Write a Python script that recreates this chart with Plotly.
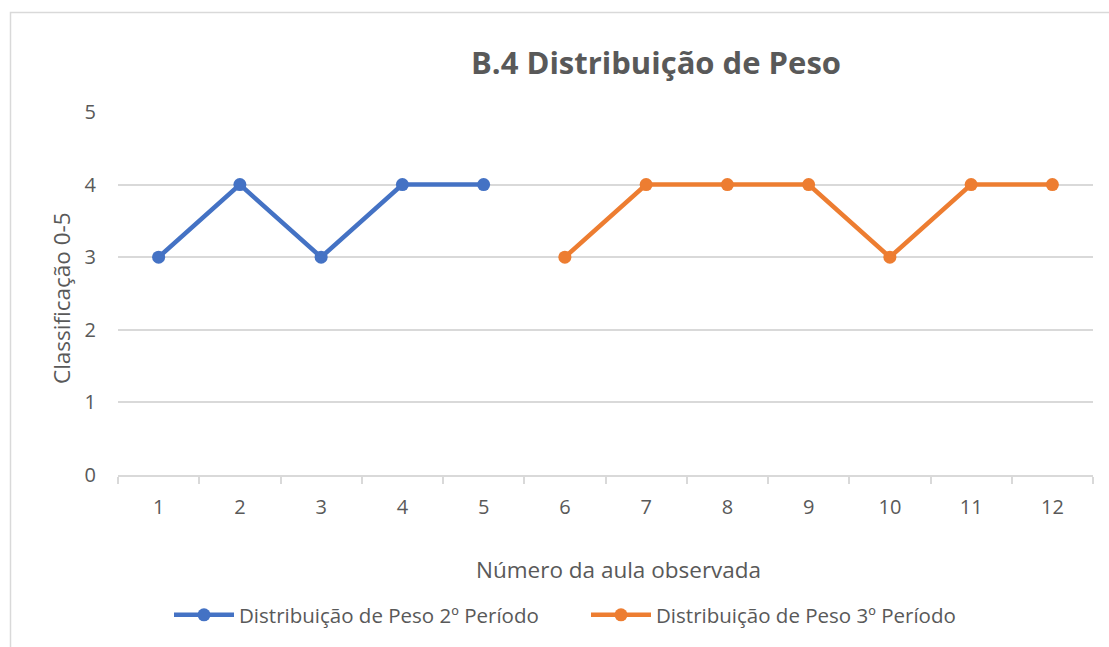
import plotly.graph_objects as go

aulas_p2 = [1, 2, 3, 4, 5]
valores_p2 = [3, 4, 3, 4, 4]
aulas_p3 = [6, 7, 8, 9, 10, 11, 12]
valores_p3 = [3, 4, 4, 4, 3, 4, 4]
nome_p2 = "Distribuição de Peso 2º Período"
nome_p3 = "Distribuição de Peso 3º Período"
titulo = "B.4 Distribuição de Peso"
titulo_x = "Número da aula observada"
titulo_y = "Classificação 0-5"

W, H = 1109, 647
L, R, T, B = 118, 16, 112, 172
pw, ph = W - L - R, H - T - B

def px(x):
    return (x - L) / pw

def py(y):
    return (H - B - y) / ph

FONT = "Open Sans"
GREY = "#595959"

fig = go.Figure()
fig.add_trace(go.Scatter(x=aulas_p2, y=valores_p2, name=nome_p2, mode="lines+markers",
                         line=dict(color="#4472C4", width=4.5),
                         marker=dict(size=13, color="#4472C4")))
fig.add_trace(go.Scatter(x=aulas_p3, y=valores_p3, name=nome_p3, mode="lines+markers",
                         line=dict(color="#ED7D31", width=4.5),
                         marker=dict(size=13, color="#ED7D31")))

fig.update_layout(
    width=W, height=H,
    margin=dict(l=L, r=R, t=T, b=B, autoexpand=False),
    paper_bgcolor="white", plot_bgcolor="white",
    font=dict(family=FONT, color=GREY, size=20),
    showlegend=True,
    legend=dict(orientation="h", x=px(169), xanchor="left", y=py(615), yanchor="middle",
                font=dict(size=20.5, color=GREY), entrywidth=342, itemwidth=60,
                bgcolor="rgba(0,0,0,0)"),
    xaxis=dict(range=[0.5, 12.5], tickmode="linear", tick0=1, dtick=1,
               showgrid=False, zeroline=False, showline=True, linecolor="#d9d9d9", linewidth=1.5,
               ticks="", tickfont=dict(size=20, color=GREY), ticklabelstandoff=13,
               minor=dict(tickmode="linear", tick0=0.5, dtick=1, ticks="outside",
                          ticklen=7, tickcolor="#d9d9d9", tickwidth=1.5, showgrid=False)),
    yaxis=dict(range=[0, 5], tickmode="linear", tick0=0, dtick=1,
               showgrid=True, gridcolor="#d9d9d9", gridwidth=1.5, zeroline=False,
               showline=False, ticks="", tickfont=dict(size=20, color=GREY),
               ticklabelstandoff=21),
    annotations=[
        dict(text="<b>" + titulo + "</b>", x=px(656), y=py(62), xref="paper", yref="paper",
             showarrow=False, font=dict(size=31, color=GREY, family=FONT),
             xanchor="center", yanchor="middle"),
        dict(text=titulo_x, x=px(618), y=py(569), xref="paper", yref="paper",
             showarrow=False, font=dict(size=22.5, color=GREY, family=FONT),
             xanchor="center", yanchor="middle"),
        dict(text=titulo_y, x=px(61), y=py(298), xref="paper", yref="paper",
             showarrow=False, textangle=-90, font=dict(size=22.5, color=GREY, family=FONT),
             xanchor="center", yanchor="middle"),
    ],
    shapes=[
        dict(type="rect", xref="paper", yref="paper",
             x0=px(10.5), x1=px(1130), y0=py(12.5), y1=py(700),
             line=dict(color="#d9d9d9", width=1.5), fillcolor="rgba(0,0,0,0)", layer="below"),
    ],
)

fig.write_html("out.html", config={"displayModeBar": False},
               post_script="document.body.style.margin='0';document.body.style.overflow='hidden';")
